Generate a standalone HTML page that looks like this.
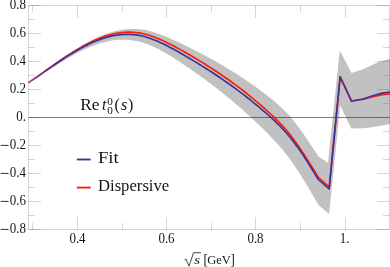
<!DOCTYPE html>
<html><head><meta charset="utf-8"><title>Re t00(s)</title>
<style>
html,body{margin:0;padding:0;background:#fff;}
body{width:390px;height:267px;overflow:hidden;}
svg{display:block}
text{font-family:"Liberation Serif",serif;fill:#141414;}
.t{font-size:13px}
.b{font-size:16px}
</style></head><body>
<svg width="390" height="267" viewBox="0 0 390 267">
<defs><filter id="g" filterUnits="userSpaceOnUse" x="0" y="0" width="390" height="267"><feOffset dx="0" dy="0"/></filter>
<linearGradient id="gb" gradientUnits="userSpaceOnUse" x1="28" y1="0" x2="55" y2="0"><stop offset="0" stop-color="#3833a0" stop-opacity="0.5"/><stop offset="1" stop-color="#3833a0" stop-opacity="1"/></linearGradient>
<linearGradient id="gr" gradientUnits="userSpaceOnUse" x1="28" y1="0" x2="52" y2="0"><stop offset="0" stop-color="#ff1a00" stop-opacity="0.5"/><stop offset="1" stop-color="#ff1a00" stop-opacity="1"/></linearGradient></defs>
<rect width="390" height="267" fill="#fff"/>
<path d="M28.2,82.6 L31.2,80.5 L34.2,78.4 L37.2,76.3 L40.2,74.1 L43.2,72.0 L46.2,69.8 L49.2,67.6 L52.2,65.5 L55.2,63.3 L58.2,61.2 L61.2,59.1 L64.2,57.0 L67.2,55.0 L70.2,53.0 L73.2,51.0 L76.2,49.1 L79.2,47.2 L82.2,45.4 L85.2,43.7 L88.2,42.0 L91.2,40.4 L94.2,38.9 L97.2,37.5 L100.2,36.1 L103.2,34.9 L106.2,33.8 L109.2,32.8 L112.2,31.9 L115.2,31.1 L118.2,30.4 L121.2,29.8 L124.2,29.4 L127.2,29.1 L130.2,28.9 L133.2,28.9 L136.2,29.0 L139.2,29.2 L142.2,29.6 L145.2,30.1 L148.2,30.8 L151.2,31.5 L154.2,32.4 L157.2,33.4 L160.2,34.4 L163.2,35.6 L166.2,36.8 L169.2,38.0 L172.2,39.4 L175.2,40.7 L178.2,42.1 L181.2,43.6 L184.2,45.0 L187.2,46.5 L190.2,48.0 L193.2,49.5 L196.2,51.0 L199.2,52.5 L202.2,54.1 L205.2,55.7 L208.2,57.3 L211.2,58.9 L214.2,60.6 L217.2,62.3 L220.2,64.0 L223.2,65.8 L226.2,67.6 L229.2,69.4 L232.2,71.2 L235.2,73.1 L238.2,75.0 L241.2,77.0 L244.2,79.0 L247.2,81.0 L250.2,83.1 L253.2,85.2 L256.2,87.3 L259.2,89.5 L262.2,91.8 L265.2,94.1 L268.2,96.4 L271.2,98.8 L274.2,101.2 L277.2,103.8 L280.2,106.5 L283.2,109.3 L286.2,112.4 L289.2,115.6 L292.2,119.1 L295.2,122.8 L298.2,126.7 L301.2,130.8 L304.2,135.0 L307.2,139.4 L310.2,143.9 L313.2,148.4 L316.2,153.1 L318.3,156.4 L328.0,162.8 L339.8,50.5 L351.5,73.1 L363.1,69.2 L378.5,61.9 L390.0,58.7 L390.0,124.0 L378.0,126.3 L370.0,127.6 L363.1,128.2 L351.2,128.5 L340.2,105.6 L329.1,214.1 L318.3,204.8 L316.2,201.1 L313.2,196.0 L310.2,190.8 L307.2,185.8 L304.2,180.8 L301.2,176.0 L298.2,171.3 L295.2,166.7 L292.2,162.4 L289.2,158.2 L286.2,154.3 L283.2,150.6 L280.2,147.0 L277.2,143.6 L274.2,140.4 L271.2,137.2 L268.2,134.1 L265.2,131.1 L262.2,128.1 L259.2,125.2 L256.2,122.3 L253.2,119.5 L250.2,116.7 L247.2,113.9 L244.2,111.2 L241.2,108.6 L238.2,105.9 L235.2,103.4 L232.2,100.8 L229.2,98.3 L226.2,95.9 L223.2,93.4 L220.2,91.1 L217.2,88.7 L214.2,86.4 L211.2,84.1 L208.2,81.9 L205.2,79.6 L202.2,77.5 L199.2,75.3 L196.2,73.2 L193.2,71.1 L190.2,69.0 L187.2,67.0 L184.2,64.9 L181.2,62.9 L178.2,61.0 L175.2,59.0 L172.2,57.1 L169.2,55.3 L166.2,53.5 L163.2,51.8 L160.2,50.1 L157.2,48.6 L154.2,47.1 L151.2,45.8 L148.2,44.5 L145.2,43.4 L142.2,42.5 L139.2,41.6 L136.2,41.0 L133.2,40.4 L130.2,40.0 L127.2,39.8 L124.2,39.7 L121.2,39.7 L118.2,39.8 L115.2,40.1 L112.2,40.5 L109.2,41.0 L106.2,41.7 L103.2,42.5 L100.2,43.3 L97.2,44.3 L94.2,45.4 L91.2,46.5 L88.2,47.8 L85.2,49.1 L82.2,50.6 L79.2,52.1 L76.2,53.6 L73.2,55.2 L70.2,56.9 L67.2,58.6 L64.2,60.4 L61.2,62.2 L58.2,64.0 L55.2,65.9 L52.2,67.8 L49.2,69.7 L46.2,71.6 L43.2,73.6 L40.2,75.5 L37.2,77.4 L34.2,79.3 L31.2,81.2 L28.2,83.1Z" fill="#c1c1c1" stroke="none"/>
<path d="M28.5,117.5H389.5" stroke="#383838" stroke-opacity="0.65" stroke-width="1" fill="none"/>
<path d="M28.2,82.9 L31.2,80.8 L34.2,78.8 L37.2,76.7 L40.2,74.5 L43.2,72.4 L46.2,70.3 L49.2,68.2 L52.2,66.1 L55.2,64.0 L58.2,61.9 L61.2,59.8 L64.2,57.8 L67.2,55.8 L70.2,53.9 L73.2,52.0 L76.2,50.1 L79.2,48.4 L82.2,46.6 L85.2,45.0 L88.2,43.4 L91.2,41.9 L94.2,40.5 L97.2,39.2 L100.2,38.0 L103.2,36.9 L106.2,35.9 L109.2,35.0 L112.2,34.2 L115.2,33.5 L118.2,33.0 L121.2,32.6 L124.2,32.3 L127.2,32.1 L130.2,32.1 L133.2,32.3 L136.2,32.5 L139.2,32.9 L142.2,33.5 L145.2,34.2 L148.2,35.0 L151.2,35.9 L154.2,37.0 L157.2,38.2 L160.2,39.4 L163.2,40.8 L166.2,42.2 L169.2,43.7 L172.2,45.2 L175.2,46.8 L178.2,48.4 L181.2,50.1 L184.2,51.8 L187.2,53.5 L190.2,55.2 L193.2,57.0 L196.2,58.8 L199.2,60.6 L202.2,62.4 L205.2,64.3 L208.2,66.2 L211.2,68.1 L214.2,70.0 L217.2,72.0 L220.2,74.0 L223.2,76.1 L226.2,78.2 L229.2,80.3 L232.2,82.5 L235.2,84.7 L238.2,86.9 L241.2,89.2 L244.2,91.5 L247.2,93.9 L250.2,96.3 L253.2,98.8 L256.2,101.3 L259.2,103.8 L262.2,106.4 L265.2,109.1 L268.2,111.8 L271.2,114.5 L274.2,117.4 L277.2,120.3 L280.2,123.4 L283.2,126.6 L286.2,130.0 L289.2,133.6 L292.2,137.5 L295.2,141.5 L298.2,145.7 L301.2,150.2 L304.2,154.7 L307.2,159.4 L310.2,164.1 L313.2,169.0 L316.2,173.9 L318.3,177.3 L328.2,186.2 L329.3,187.0 L340.2,76.7 L351.5,101.3 L363.1,99.3 L372.7,96.6 L382.3,94.7 L390.0,93.9" fill="none" stroke="url(#gr)" stroke-width="1.65" stroke-linejoin="round"/>
<path d="M28.2,82.9 L31.2,80.9 L34.2,78.8 L37.2,76.8 L40.2,74.7 L43.2,72.6 L46.2,70.5 L49.2,68.4 L52.2,66.4 L55.2,64.3 L58.2,62.3 L61.2,60.3 L64.2,58.4 L67.2,56.4 L70.2,54.6 L73.2,52.7 L76.2,51.0 L79.2,49.3 L82.2,47.6 L85.2,46.0 L88.2,44.5 L91.2,43.1 L94.2,41.8 L97.2,40.6 L100.2,39.4 L103.2,38.4 L106.2,37.5 L109.2,36.6 L112.2,35.9 L115.2,35.4 L118.2,34.9 L121.2,34.6 L124.2,34.4 L127.2,34.3 L130.2,34.4 L133.2,34.6 L136.2,34.9 L139.2,35.4 L142.2,36.0 L145.2,36.8 L148.2,37.7 L151.2,38.7 L154.2,39.9 L157.2,41.1 L160.2,42.4 L163.2,43.8 L166.2,45.3 L169.2,46.9 L172.2,48.5 L175.2,50.1 L178.2,51.8 L181.2,53.5 L184.2,55.3 L187.2,57.0 L190.2,58.8 L193.2,60.6 L196.2,62.4 L199.2,64.2 L202.2,66.1 L205.2,68.0 L208.2,69.9 L211.2,71.8 L214.2,73.8 L217.2,75.8 L220.2,77.8 L223.2,79.9 L226.2,82.0 L229.2,84.1 L232.2,86.2 L235.2,88.4 L238.2,90.7 L241.2,92.9 L244.2,95.2 L247.2,97.5 L250.2,99.9 L253.2,102.3 L256.2,104.8 L259.2,107.2 L262.2,109.8 L265.2,112.4 L268.2,115.0 L271.2,117.7 L274.2,120.4 L277.2,123.3 L280.2,126.2 L283.2,129.4 L286.2,132.7 L289.2,136.2 L292.2,140.0 L295.2,143.9 L298.2,148.1 L301.2,152.4 L304.2,156.9 L307.2,161.6 L310.2,166.3 L313.2,171.1 L316.2,176.0 L318.3,179.5 L329.1,189.0 L340.1,77.0 L351.5,101.0 L363.1,99.0 L372.7,95.7 L382.3,93.1 L390.0,92.0" fill="none" stroke="url(#gb)" stroke-width="1.65" stroke-linejoin="round"/>
<path d="M28.5,5.5H389.5V229.5H28.5Z" fill="none" stroke="#5a5a5a" stroke-opacity="0.25" stroke-width="1"/>
<path d="M28.0,229.5h13.0M390.0,229.5h-13.0M28.0,215.5h7.0M390.0,215.5h-7.0M28.0,201.5h13.0M390.0,201.5h-13.0M28.0,187.5h7.0M390.0,187.5h-7.0M28.0,173.5h13.0M390.0,173.5h-13.0M28.0,159.5h7.0M390.0,159.5h-7.0M28.0,145.5h13.0M390.0,145.5h-13.0M28.0,131.5h7.0M390.0,131.5h-7.0M28.0,117.5h13.0M390.0,117.5h-13.0M28.0,103.5h7.0M390.0,103.5h-7.0M28.0,89.5h13.0M390.0,89.5h-13.0M28.0,75.5h7.0M390.0,75.5h-7.0M28.0,61.5h13.0M390.0,61.5h-13.0M28.0,47.5h7.0M390.0,47.5h-7.0M28.0,33.5h13.0M390.0,33.5h-13.0M28.0,19.5h7.0M390.0,19.5h-7.0M28.0,5.5h13.0M390.0,5.5h-13.0M32.5,230.0v-7.0M32.5,5.0v7.0M77.5,230.0v-13.0M77.5,5.0v13.0M122.5,230.0v-7.0M122.5,5.0v7.0M166.5,230.0v-13.0M166.5,5.0v13.0M211.5,230.0v-7.0M211.5,5.0v7.0M255.5,230.0v-13.0M255.5,5.0v13.0M300.5,230.0v-7.0M300.5,5.0v7.0M345.5,230.0v-13.0M345.5,5.0v13.0" fill="none" stroke="#5a5a5a" stroke-opacity="0.25" stroke-width="1"/>
<g filter="url(#g)">
<g class="t"><text transform="translate(26.0,232.9) scale(1,1.09)" text-anchor="end">0.8</text><path d="M0.8,229.4h7.8" stroke="#141414" stroke-width="0.9"/><text transform="translate(26.0,204.9) scale(1,1.09)" text-anchor="end">0.6</text><path d="M0.8,201.4h7.8" stroke="#141414" stroke-width="0.9"/><text transform="translate(26.0,176.9) scale(1,1.09)" text-anchor="end">0.4</text><path d="M0.8,173.4h7.8" stroke="#141414" stroke-width="0.9"/><text transform="translate(26.0,148.9) scale(1,1.09)" text-anchor="end">0.2</text><path d="M0.8,145.4h7.8" stroke="#141414" stroke-width="0.9"/><text transform="translate(26.0,120.9) scale(1,1.09)" text-anchor="end">0.</text><text transform="translate(26.0,92.9) scale(1,1.09)" text-anchor="end">0.2</text><text transform="translate(26.0,64.9) scale(1,1.09)" text-anchor="end">0.4</text><text transform="translate(26.0,36.9) scale(1,1.09)" text-anchor="end">0.6</text><text transform="translate(26.0,8.9) scale(1,1.09)" text-anchor="end">0.8</text><text transform="translate(77.5,243.2) scale(1,1.09)" text-anchor="middle">0.4</text><text transform="translate(166.5,243.2) scale(1,1.09)" text-anchor="middle">0.6</text><text transform="translate(255.5,243.2) scale(1,1.09)" text-anchor="middle">0.8</text><text transform="translate(344.7,243.2) scale(1,1.09)" text-anchor="middle">1.</text></g>
<g class="b">
<text x="80.2" y="109.9" textLength="19.3" lengthAdjust="spacingAndGlyphs">Re</text>
<text x="102.1" y="109.9" font-style="italic">t</text>
<text x="107.3" y="104.5" font-size="11.2">0</text>
<text x="107.3" y="114.0" font-size="11.2">0</text>
<text x="114.6" y="109.9">(</text>
<text x="121.0" y="109.9" font-style="italic">s</text>
<text x="128.0" y="109.9">)</text>
<text x="97.9" y="163.1" textLength="20.8" lengthAdjust="spacingAndGlyphs">Fit</text>
<text x="98.0" y="191.0" textLength="71.2" lengthAdjust="spacingAndGlyphs">Dispersive</text>
</g>
<path d="M76.8,159.5H90.6" stroke="#3833a0" stroke-width="1.85"/>
<path d="M76.8,187.6H90.6" stroke="#ff1a00" stroke-width="1.85"/>
<g class="t">
<path d="M184.5,260.0l1.5,-1.0l3.0,7.2l4.6,-13.5h7.2" fill="none" stroke="#141414" stroke-width="0.8"/>
<text x="194.2" y="263.6" font-style="italic" textLength="5.8" lengthAdjust="spacingAndGlyphs">s</text>
<text transform="translate(203.4,264.2) scale(1,1.2)">[</text>
<text x="207.3" y="263.6" textLength="23.6" lengthAdjust="spacingAndGlyphs">GeV</text>
<text transform="translate(230.4,264.2) scale(1,1.2)">]</text>
</g>
</g>
</svg>
</body></html>
